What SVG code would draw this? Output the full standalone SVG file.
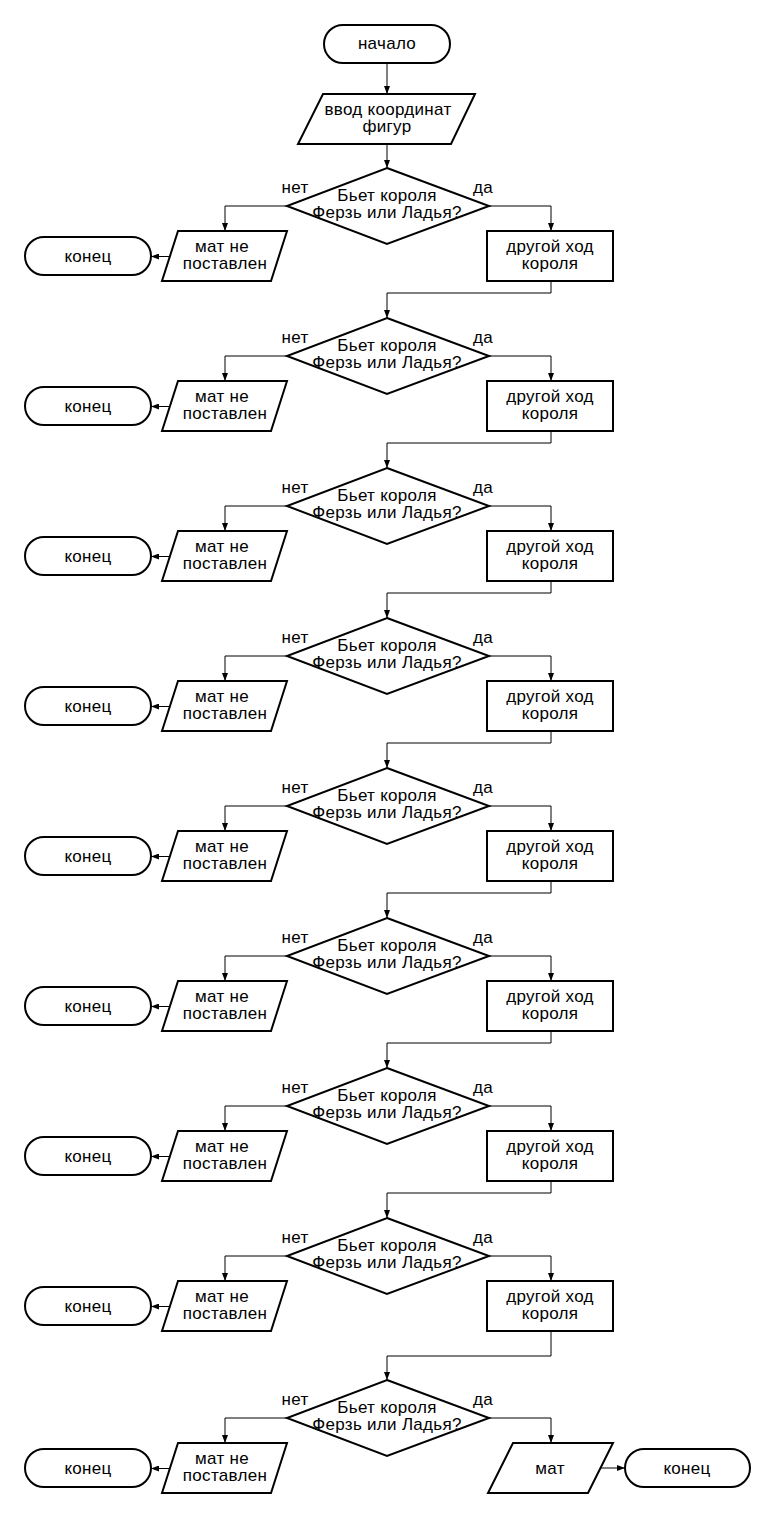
<svg xmlns="http://www.w3.org/2000/svg" width="775" height="1519" viewBox="0 0 775 1519">
  <style>
    .shape { fill: #ffffff; stroke: #000000; stroke-width: 2; }
    .conn { fill: none; stroke: #000000; stroke-width: 1; }
    .arr { marker-end: url(#arrow); }
    text { font-family: "Liberation Sans", Arial, sans-serif; font-size: 17px; letter-spacing: 0.3px; fill: #000000; text-anchor: middle; }
  </style>
  <defs>
    <marker id="arrow" markerUnits="userSpaceOnUse" markerWidth="8" markerHeight="6" refX="8" refY="3" orient="auto">
      <path d="M0,0 L8,3 L0,6 z" fill="#000000"/>
    </marker>
  </defs>
  <rect width="775" height="1519" fill="#ffffff"/>

  <!-- connectors -->
  <g id="connectors">
    <path class="conn arr" d="M387,63 V94"/>
    <path class="conn arr" d="M387,144 V168"/>
    <!-- block 1 -->
    <path class="conn arr" d="M287,206 H225 V231"/>
    <path class="conn arr" d="M489,206 H551 V231"/>
    <path class="conn arr" d="M170,256.5 H151"/>
    <path class="conn arr" d="M551,281 V293 H387 V318"/>
    <!-- block 2 -->
    <path class="conn arr" d="M287,356 H225 V381"/>
    <path class="conn arr" d="M489,356 H551 V381"/>
    <path class="conn arr" d="M170,406.5 H151"/>
    <path class="conn arr" d="M551,431 V443 H387 V468"/>
    <!-- block 3 -->
    <path class="conn arr" d="M287,506 H225 V531"/>
    <path class="conn arr" d="M489,506 H551 V531"/>
    <path class="conn arr" d="M170,556.5 H151"/>
    <path class="conn arr" d="M551,581 V593 H387 V618"/>
    <!-- block 4 -->
    <path class="conn arr" d="M287,656 H225 V681"/>
    <path class="conn arr" d="M489,656 H551 V681"/>
    <path class="conn arr" d="M170,706.5 H151"/>
    <path class="conn arr" d="M551,731 V743 H387 V768"/>
    <!-- block 5 -->
    <path class="conn arr" d="M287,806 H225 V831"/>
    <path class="conn arr" d="M489,806 H551 V831"/>
    <path class="conn arr" d="M170,856.5 H151"/>
    <path class="conn arr" d="M551,881 V893 H387 V918"/>
    <!-- block 6 -->
    <path class="conn arr" d="M287,956 H225 V981"/>
    <path class="conn arr" d="M489,956 H551 V981"/>
    <path class="conn arr" d="M170,1006.5 H151"/>
    <path class="conn arr" d="M551,1031 V1043 H387 V1068"/>
    <!-- block 7 -->
    <path class="conn arr" d="M287,1106 H225 V1131"/>
    <path class="conn arr" d="M489,1106 H551 V1131"/>
    <path class="conn arr" d="M170,1156.5 H151"/>
    <path class="conn arr" d="M551,1181 V1193 H387 V1218"/>
    <!-- block 8 -->
    <path class="conn arr" d="M287,1256 H225 V1281"/>
    <path class="conn arr" d="M489,1256 H551 V1281"/>
    <path class="conn arr" d="M170,1306.5 H151"/>
    <path class="conn arr" d="M551,1331 V1356 H387 V1380"/>
    <!-- block 9 -->
    <path class="conn arr" d="M287,1418 H225 V1443"/>
    <path class="conn arr" d="M489,1418 H551 V1443"/>
    <path class="conn arr" d="M170,1468.5 H151"/>
    <path class="conn arr" d="M601,1468 H625"/>
  </g>

  <!-- start / input -->
  <g id="start">
    <rect class="shape" x="324" y="25" width="126" height="38" rx="19"/>
    <text x="387" y="49">начало</text>
  </g>
  <g id="input">
    <polygon class="shape" points="323,94 475,94 451,144 298,144"/>
    <text x="388" y="115">ввод координат</text>
    <text x="387" y="132">фигур</text>
  </g>

  <!-- block 1 -->
  <g id="check1">
    <polygon class="shape" points="387,168 489,206 387,244 287,206"/>
    <text x="387" y="201">Бьет короля</text>
    <text x="387" y="218">Ферзь или Ладья?</text>
    <text x="295" y="193">нет</text>
    <text x="483" y="193">да</text>
  </g>
  <g id="nomate1">
    <polygon class="shape" points="178,231 287,231 271,281 162,281"/>
    <text x="222" y="252">мат не</text>
    <text x="225" y="269">поставлен</text>
  </g>
  <g id="end1">
    <rect class="shape" x="25" y="237" width="126" height="38" rx="19"/>
    <text x="88" y="262">конец</text>
  </g>
  <g id="move1">
    <rect class="shape" x="487" y="231" width="126" height="50"/>
    <text x="550" y="252">другой ход</text>
    <text x="550" y="269">короля</text>
  </g>

  <!-- block 2 -->
  <g id="check2">
    <polygon class="shape" points="387,318 489,356 387,394 287,356"/>
    <text x="387" y="351">Бьет короля</text>
    <text x="387" y="368">Ферзь или Ладья?</text>
    <text x="295" y="343">нет</text>
    <text x="483" y="343">да</text>
  </g>
  <g id="nomate2">
    <polygon class="shape" points="178,381 287,381 271,431 162,431"/>
    <text x="222" y="402">мат не</text>
    <text x="225" y="419">поставлен</text>
  </g>
  <g id="end2">
    <rect class="shape" x="25" y="387" width="126" height="38" rx="19"/>
    <text x="88" y="412">конец</text>
  </g>
  <g id="move2">
    <rect class="shape" x="487" y="381" width="126" height="50"/>
    <text x="550" y="402">другой ход</text>
    <text x="550" y="419">короля</text>
  </g>

  <!-- block 3 -->
  <g id="check3">
    <polygon class="shape" points="387,468 489,506 387,544 287,506"/>
    <text x="387" y="501">Бьет короля</text>
    <text x="387" y="518">Ферзь или Ладья?</text>
    <text x="295" y="493">нет</text>
    <text x="483" y="493">да</text>
  </g>
  <g id="nomate3">
    <polygon class="shape" points="178,531 287,531 271,581 162,581"/>
    <text x="222" y="552">мат не</text>
    <text x="225" y="569">поставлен</text>
  </g>
  <g id="end3">
    <rect class="shape" x="25" y="537" width="126" height="38" rx="19"/>
    <text x="88" y="562">конец</text>
  </g>
  <g id="move3">
    <rect class="shape" x="487" y="531" width="126" height="50"/>
    <text x="550" y="552">другой ход</text>
    <text x="550" y="569">короля</text>
  </g>

  <!-- block 4 -->
  <g id="check4">
    <polygon class="shape" points="387,618 489,656 387,694 287,656"/>
    <text x="387" y="651">Бьет короля</text>
    <text x="387" y="668">Ферзь или Ладья?</text>
    <text x="295" y="643">нет</text>
    <text x="483" y="643">да</text>
  </g>
  <g id="nomate4">
    <polygon class="shape" points="178,681 287,681 271,731 162,731"/>
    <text x="222" y="702">мат не</text>
    <text x="225" y="719">поставлен</text>
  </g>
  <g id="end4">
    <rect class="shape" x="25" y="687" width="126" height="38" rx="19"/>
    <text x="88" y="712">конец</text>
  </g>
  <g id="move4">
    <rect class="shape" x="487" y="681" width="126" height="50"/>
    <text x="550" y="702">другой ход</text>
    <text x="550" y="719">короля</text>
  </g>

  <!-- block 5 -->
  <g id="check5">
    <polygon class="shape" points="387,768 489,806 387,844 287,806"/>
    <text x="387" y="801">Бьет короля</text>
    <text x="387" y="818">Ферзь или Ладья?</text>
    <text x="295" y="793">нет</text>
    <text x="483" y="793">да</text>
  </g>
  <g id="nomate5">
    <polygon class="shape" points="178,831 287,831 271,881 162,881"/>
    <text x="222" y="852">мат не</text>
    <text x="225" y="869">поставлен</text>
  </g>
  <g id="end5">
    <rect class="shape" x="25" y="837" width="126" height="38" rx="19"/>
    <text x="88" y="862">конец</text>
  </g>
  <g id="move5">
    <rect class="shape" x="487" y="831" width="126" height="50"/>
    <text x="550" y="852">другой ход</text>
    <text x="550" y="869">короля</text>
  </g>

  <!-- block 6 -->
  <g id="check6">
    <polygon class="shape" points="387,918 489,956 387,994 287,956"/>
    <text x="387" y="951">Бьет короля</text>
    <text x="387" y="968">Ферзь или Ладья?</text>
    <text x="295" y="943">нет</text>
    <text x="483" y="943">да</text>
  </g>
  <g id="nomate6">
    <polygon class="shape" points="178,981 287,981 271,1031 162,1031"/>
    <text x="222" y="1002">мат не</text>
    <text x="225" y="1019">поставлен</text>
  </g>
  <g id="end6">
    <rect class="shape" x="25" y="987" width="126" height="38" rx="19"/>
    <text x="88" y="1012">конец</text>
  </g>
  <g id="move6">
    <rect class="shape" x="487" y="981" width="126" height="50"/>
    <text x="550" y="1002">другой ход</text>
    <text x="550" y="1019">короля</text>
  </g>

  <!-- block 7 -->
  <g id="check7">
    <polygon class="shape" points="387,1068 489,1106 387,1144 287,1106"/>
    <text x="387" y="1101">Бьет короля</text>
    <text x="387" y="1118">Ферзь или Ладья?</text>
    <text x="295" y="1093">нет</text>
    <text x="483" y="1093">да</text>
  </g>
  <g id="nomate7">
    <polygon class="shape" points="178,1131 287,1131 271,1181 162,1181"/>
    <text x="222" y="1152">мат не</text>
    <text x="225" y="1169">поставлен</text>
  </g>
  <g id="end7">
    <rect class="shape" x="25" y="1137" width="126" height="38" rx="19"/>
    <text x="88" y="1162">конец</text>
  </g>
  <g id="move7">
    <rect class="shape" x="487" y="1131" width="126" height="50"/>
    <text x="550" y="1152">другой ход</text>
    <text x="550" y="1169">короля</text>
  </g>

  <!-- block 8 -->
  <g id="check8">
    <polygon class="shape" points="387,1218 489,1256 387,1294 287,1256"/>
    <text x="387" y="1251">Бьет короля</text>
    <text x="387" y="1268">Ферзь или Ладья?</text>
    <text x="295" y="1243">нет</text>
    <text x="483" y="1243">да</text>
  </g>
  <g id="nomate8">
    <polygon class="shape" points="178,1281 287,1281 271,1331 162,1331"/>
    <text x="222" y="1302">мат не</text>
    <text x="225" y="1319">поставлен</text>
  </g>
  <g id="end8">
    <rect class="shape" x="25" y="1287" width="126" height="38" rx="19"/>
    <text x="88" y="1312">конец</text>
  </g>
  <g id="move8">
    <rect class="shape" x="487" y="1281" width="126" height="50"/>
    <text x="550" y="1302">другой ход</text>
    <text x="550" y="1319">короля</text>
  </g>

  <!-- block 9 (final check) -->
  <g id="check9">
    <polygon class="shape" points="387,1380 489,1418 387,1456 287,1418"/>
    <text x="387" y="1413">Бьет короля</text>
    <text x="387" y="1430">Ферзь или Ладья?</text>
    <text x="295" y="1405">нет</text>
    <text x="483" y="1405">да</text>
  </g>
  <g id="nomate9">
    <polygon class="shape" points="178,1443 287,1443 271,1493 162,1493"/>
    <text x="222" y="1464">мат не</text>
    <text x="225" y="1481">поставлен</text>
  </g>
  <g id="end9">
    <rect class="shape" x="25" y="1449" width="126" height="38" rx="19"/>
    <text x="88" y="1474">конец</text>
  </g>
  <g id="mate">
    <polygon class="shape" points="513,1443 613,1443 588,1493 488,1493"/>
    <text x="550" y="1474">мат</text>
  </g>
  <g id="end10">
    <rect class="shape" x="625" y="1449" width="125" height="38" rx="19"/>
    <text x="687" y="1474">конец</text>
  </g>
</svg>
